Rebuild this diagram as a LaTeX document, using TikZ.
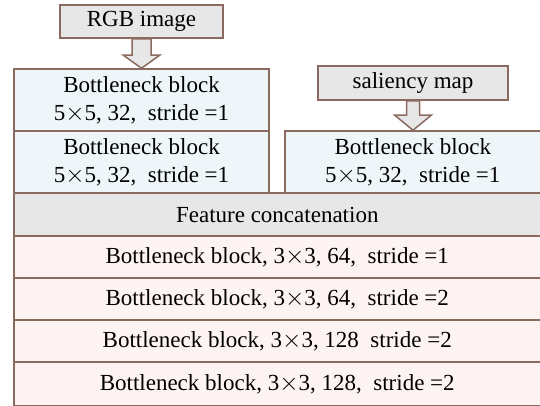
\documentclass[tikz,border=0pt]{standalone}
\usepackage{fontspec}
\setmainfont{Liberation Serif}
\definecolor{edge}{HTML}{8B6A60}
\definecolor{bluefill}{HTML}{EEF6FA}
\definecolor{grayfill}{HTML}{E7E7E7}
\definecolor{pinkfill}{HTML}{FDF3F2}
\newcommand{\tms}{$\times$}
\begin{document}
\begin{tikzpicture}[x=1pt,y=-1pt,
  box/.style={draw=edge, line width=1.5pt, inner sep=0pt, align=center,
    font=\fontsize{23}{28}\selectfont},
  bluebox/.style={box, fill=bluefill},
  graybox/.style={box, fill=grayfill},
  pinkbox/.style={box, fill=pinkfill},
  blockarrow/.style={draw=edge, line width=1.5pt, fill=grayfill, line join=miter}]
\useasboundingbox (0,0) rectangle (540,405);
\clip (0,0) rectangle (540,405);
% input boxes
\node[graybox, minimum width=163pt, minimum height=33pt] (rgb) at (141.5,21.5) {RGB image};
\node[graybox, minimum width=190pt, minimum height=34pt] (sal) at (413,83) {saliency map};
% left branch
\node[bluebox, minimum width=255pt, minimum height=62pt] (b1) at (141.5,100) {Bottleneck block\\5\tms5, 32,\ \ stride =1};
\node[bluebox, minimum width=255pt, minimum height=62pt] (b2) at (141.5,162) {Bottleneck block\\5\tms5, 32,\ \ stride =1};
% right branch
\node[bluebox, minimum width=255.5pt, minimum height=62pt] (b3) at (412.75,162) {Bottleneck block\\5\tms5, 32,\ \ stride =1};
% shared trunk
\node[graybox, minimum width=526.5pt, minimum height=43pt] (fc) at (277.25,214.5) {Feature concatenation};
\node[pinkbox, minimum width=526.5pt, minimum height=42pt] (r1) at (277.25,257) {Bottleneck block, 3\tms3, 64,\ \ stride =1};
\node[pinkbox, minimum width=526.5pt, minimum height=42pt] (r2) at (277.25,299) {Bottleneck block, 3\tms3, 64,\ \ stride =2};
\node[pinkbox, minimum width=526.5pt, minimum height=42pt] (r3) at (277.25,341) {Bottleneck block, 3\tms3, 128\ \ stride =2};
\node[pinkbox, minimum width=526.5pt, minimum height=44pt] (r4) at (277.25,384) {Bottleneck block, 3\tms3, 128,\ \ stride =2};
% block arrows
\draw[blockarrow] ([xshift=-9.5pt]rgb.south) -- ([xshift=9.5pt]rgb.south)
  -- ([xshift=9.5pt]rgb.south |- 0,55) -- ([xshift=18.5pt]rgb.south |- 0,55)
  -- (b1.north) -- ([xshift=-18.5pt]rgb.south |- 0,55)
  -- ([xshift=-9.5pt]rgb.south |- 0,55) -- cycle;
\draw[blockarrow] ([xshift=-6.5pt]sal.south) -- ([xshift=6.5pt]sal.south)
  -- ([xshift=6.5pt]sal.south |- 0,115) -- ([xshift=18.5pt]sal.south |- 0,115)
  -- (sal.south |- b3.north) -- ([xshift=-18.5pt]sal.south |- 0,115)
  -- ([xshift=-6.5pt]sal.south |- 0,115) -- cycle;
\end{tikzpicture}
\end{document}
